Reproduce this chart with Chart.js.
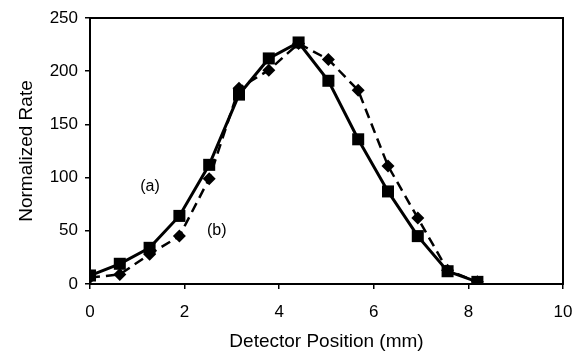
<!DOCTYPE html>
<html lang="en">

<head>
    <meta charset="UTF-8">
    <title>Normalized Rate vs Detector Position</title>
    <script src="https://cdn.jsdelivr.net/npm/chart.js@4.4.1/dist/chart.umd.min.js"></script>
    <style>
        html, body { margin: 0; padding: 0; background: #ffffff; }
        #wrap { width: 574px; height: 356px; }
    </style>
</head>

<body>
    <div id="wrap"><canvas id="rateChart" width="574" height="356"></canvas></div>
    <script>
    // detector positions (mm)
    var positions = [0, 0.63, 1.26, 1.89, 2.52, 3.15, 3.78, 4.41, 5.04, 5.67, 6.3, 6.93, 7.56, 8.19];
    // curve (a), squares, solid line
    var rateA = [8, 19, 34, 64, 112, 178, 212, 227, 191, 136, 87, 45, 12, 2];
    // curve (b), diamonds, dashed line
    var rateB = [6, 9, 28, 45, 99, 184, 201, 226, 211, 182, 111, 62, 13, 2];
    var xTicks = [0, 2, 4, 6, 8, 10];
    var yTicks = [0, 50, 100, 150, 200, 250];
    // curve labels in data units
    var curveLabels = [
        { text: '(a)', x: 1.27, y: 92 },
        { text: '(b)', x: 2.68, y: 50 }
    ];

    function toPoints(xs, ys) {
        return xs.map(function (x, i) { return { x: x, y: ys[i] }; });
    }

    var font = "'Liberation Sans', Arial, sans-serif";

    var labelPlugin = {
        id: 'curveLabels',
        afterDatasetsDraw: function (chart) {
            var ctx = chart.ctx;
            ctx.save();
            ctx.fillStyle = '#000';
            ctx.font = '16px ' + font;
            ctx.textAlign = 'center';
            ctx.textBaseline = 'middle';
            curveLabels.forEach(function (l) {
                ctx.fillText(l.text, chart.scales.x.getPixelForValue(l.x), chart.scales.y.getPixelForValue(l.y));
            });
            ctx.restore();
        }
    };

    var frame = {
        id: 'frame',
        afterDraw: function (chart) {
            var a = chart.chartArea, ctx = chart.ctx;
            ctx.save();
            ctx.strokeStyle = '#000';
            ctx.lineWidth = 2;
            ctx.strokeRect(a.left, a.top, a.right - a.left, a.bottom - a.top);
            ctx.restore();
        }
    };

    var ctx = document.getElementById('rateChart').getContext('2d');
    var chart = new Chart(ctx, {
        type: 'line',
        data: {
            datasets: [{
                label: '(a)',
                data: toPoints(positions, rateA),
                borderColor: '#000',
                backgroundColor: '#000',
                borderWidth: 3,
                pointStyle: 'rect',
                pointRadius: 8.5,
                pointBorderWidth: 0,
                tension: 0,
                fill: false
            }, {
                label: '(b)',
                data: toPoints(positions, rateB),
                borderColor: '#000',
                backgroundColor: '#000',
                borderWidth: 2.5,
                borderDash: [10, 6],
                pointStyle: 'rectRot',
                pointRadius: 6.5,
                pointBorderWidth: 0,
                tension: 0,
                fill: false
            }]
        },
        options: {
            responsive: false,
            animation: false,
            layout: { padding: { top: 18, right: 11, left: 0, bottom: 0 } },
            plugins: {
                legend: { display: false },
                tooltip: { enabled: false }
            },
            scales: {
                x: {
                    type: 'linear',
                    min: 0,
                    max: 10,
                    afterBuildTicks: function (s) { s.ticks = xTicks.map(function (v) { return { value: v }; }); },
                    grid: { drawOnChartArea: false, color: '#000', tickLength: 5, lineWidth: 1.5 },
                    border: { display: false },
                    ticks: { color: '#000', font: { family: font, size: 17 }, padding: 13, maxRotation: 0 },
                    title: { display: true, text: 'Detector Position (mm)', color: '#000', font: { family: font, size: 19 }, padding: { top: 4, bottom: 3 } },
                    afterFit: function (s) { s.height = 72; s.paddingLeft = 0; s.paddingRight = 0; }
                },
                y: {
                    type: 'linear',
                    min: 0,
                    max: 250,
                    afterBuildTicks: function (s) { s.ticks = yTicks.map(function (v) { return { value: v }; }); },
                    grid: { drawOnChartArea: false, color: '#000', tickLength: 5, lineWidth: 1.5 },
                    border: { display: false },
                    ticks: { color: '#000', font: { family: font, size: 17 }, padding: 7 },
                    title: { display: true, text: 'Normalized Rate', color: '#000', font: { family: font, size: 19 }, padding: { top: 15, bottom: 4 } },
                    afterFit: function (s) { s.width = 90; s.paddingTop = 0; s.paddingBottom = 0; }
                }
            }
        },
        plugins: [labelPlugin, frame]
    });
    </script>
</body>

</html>
